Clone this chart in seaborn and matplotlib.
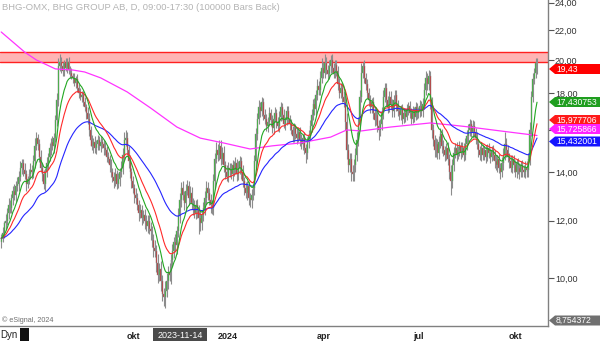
import numpy as np
import pandas as pd
import matplotlib
matplotlib.use("Agg")
import matplotlib.pyplot as plt
import seaborn as sns
from matplotlib.patches import Rectangle, Polygon
from matplotlib.ticker import FixedLocator, NullLocator, FuncFormatter

# ---------------- data ----------------
start_date = "2023-05-29"
first_open = 11.2
closes = [
    11.35, 11.55, 11.9, 12.0, 12.3, 12.6, 12.5, 12.9, 13.2, 13.0,
    13.4, 13.5, 13.8, 14.2, 14.4, 14.1, 13.9, 13.5, 13.7, 13.9,
    14.1, 14.0, 14.5, 15.2, 15.6, 15.3, 14.7, 14.2, 13.9, 13.5,
    14.0, 14.4, 14.7, 15.1, 15.4, 15.2, 15.6, 16.5, 17.6, 19.6,
    19.9, 19.6, 19.3, 19.8, 19.5, 19.9, 19.4, 19.2, 19.0, 18.9,
    18.6, 18.8, 18.3, 18.0, 17.8, 17.9, 17.5, 17.2, 16.9, 16.6,
    16.0, 15.5, 15.2, 15.4, 15.1, 15.3, 15.5, 15.2, 15.4, 15.3,
    15.1, 15.0, 14.7, 14.6, 14.3, 14.0, 13.8, 13.6, 13.9, 13.5,
    13.7, 14.0, 14.2, 14.8, 15.5, 15.6, 15.0, 14.5, 14.0, 13.6,
    13.3, 13.0, 12.9, 12.6, 12.3, 12.4, 12.1, 12.2, 12.0, 11.8,
    12.0, 11.7, 11.6, 11.3, 11.0, 10.9, 10.5, 10.1, 10.3, 9.9,
    9.5, 9.4, 9.6, 9.9, 10.2, 10.1, 10.6, 10.9, 11.2, 11.1,
    11.6, 12.2, 12.8, 13.3, 13.0, 12.7, 13.2, 13.4, 12.9, 13.1,
    12.7, 12.5, 12.3, 12.6, 12.4, 12.1, 11.9, 12.2, 12.5, 12.9,
    13.3, 13.1, 12.8, 12.6, 12.5, 13.6, 14.6, 15.0, 14.8, 15.2,
    14.6, 14.9, 14.3, 14.0, 13.8, 14.2, 14.1, 13.9, 14.3, 14.1,
    14.4, 13.9, 14.2, 14.5, 14.0, 13.6, 13.3, 13.1, 13.4, 12.9,
    12.8, 13.0, 13.3, 14.5, 15.8, 16.6, 17.2, 17.0, 17.5, 16.8,
    16.6, 16.2, 16.4, 16.9, 16.5, 16.1, 16.6, 16.9, 16.4, 16.2,
    16.7, 17.2, 16.8, 16.3, 16.5, 17.0, 16.6, 16.3, 16.0, 15.7,
    16.1, 15.8, 15.6, 15.9, 15.5, 15.3, 15.6, 15.1, 14.9, 15.4,
    15.7, 16.2, 16.8, 17.4, 17.1, 17.9, 18.4, 18.2, 18.9, 19.5,
    19.2, 19.8, 19.4, 19.1, 19.6, 20.0, 19.5, 19.2, 19.7, 19.3,
    18.5, 18.0, 18.3, 17.8, 17.5, 16.4, 15.0, 14.3, 14.6, 14.0,
    13.9, 14.3, 14.8, 15.5, 16.3, 17.8, 19.2, 19.6, 18.9, 18.5,
    18.0, 17.6, 17.2, 17.5, 16.9, 16.5, 16.8, 16.2, 16.0, 16.3,
    16.9, 17.8, 18.3, 17.6, 17.2, 17.8, 17.4, 17.0, 17.6, 17.9,
    17.3, 17.0, 16.8, 17.1, 16.6, 16.9, 16.7, 17.1, 17.3, 16.9,
    16.6, 17.0, 16.7, 17.2, 16.9, 17.0, 17.3, 17.0, 17.4, 18.2,
    18.9, 18.5, 19.0, 17.5, 16.0, 15.5, 15.0, 15.3, 14.9, 15.4,
    15.8, 15.2, 15.0, 14.8, 15.1, 14.6, 14.0, 13.6, 14.3, 14.9,
    15.1, 14.8, 15.0, 15.2, 14.9, 15.1, 14.8, 15.3, 15.7, 16.0,
    16.3, 15.9, 16.2, 15.9, 15.6, 15.3, 15.0, 14.8, 15.1, 14.8,
    15.0, 14.7, 15.1, 14.9, 14.7, 15.0, 14.8, 14.5, 14.3, 14.6,
    14.2, 14.0, 14.4, 14.8, 15.3, 15.0, 14.7, 14.5, 14.2, 14.6,
    14.3, 14.0, 14.4, 14.2, 14.0, 14.3, 14.1, 14.0, 14.2, 14.1,
    14.6, 16.0, 17.8, 18.8, 19.2, 19.8, 19.43,
]
wick_up = [
    .15, .2, .1, .25, .2, .3, .2, .15, .2, .3,
    .2, .3, .25, .3, .2, .2, .3, .2, .15, .25,
    .3, .2, .3, .4, .3, .2, .25, .3, .2, .2,
    .2, .3, .2, .25, .2, .3, .25, .3, .4, .5,
    .5, .3, .3, .2, .3, .2, .3, .2, .3, .2,
    .3, .2, .3, .2, .3, .2, .2, .3, .2, .3,
    .3, .2, .25, .2, .3, .2, .25, .2, .3, .2,
    .2, .3, .2, .25, .2, .3, .2, .2, .3, .2,
    .25, .2, .3, .3, .4, .4, .3, .2, .3, .2,
    .25, .2, .3, .2, .2, .25, .2, .2, .25, .2,
    .2, .2, .25, .2, .2, .3, .2, .3, .2, .25,
    .2, .2, .3, .25, .2, .3, .2, .25, .2, .3,
    .2, .3, .3, .25, .3, .2, .3, .25, .2, .3,
    .25, .2, .3, .2, .25, .2, .3, .2, .25, .3,
    .3, .25, .2, .25, .2, .3, .3, .4, .3, .3,
    .3, .25, .3, .2, .3, .25, .2, .3, .25, .2,
    .3, .2, .3, .25, .2, .3, .2, .25, .2, .2,
    .2, .25, .2, .3, .3, .3, .4, .3, .3, .2,
    .3, .25, .3, .3, .2, .3, .25, .3, .2, .3,
    .3, .3, .25, .3, .2, .3, .25, .2, .3, .2,
    .25, .2, .3, .2, .25, .3, .2, .3, .2, .25,
    .3, .3, .3, .25, .3, .3, .4, .3, .4, .6,
    .4, .6, .4, .3, .4, .3, .4, .3, .3, .3,
    .3, .4, .3, .3, .3, .4, .5, .3, .3, .3,
    .3, .3, .3, .4, .4, .4, .6, .3, .4, .3,
    .3, .3, .3, .25, .3, .3, .3, .25, .3, .3,
    .3, .4, .3, .3, .25, .3, .3, .25, .3, .3,
    .25, .3, .2, .25, .3, .2, .25, .3, .2, .25,
    .25, .3, .2, .3, .25, .2, .3, .25, .3, .4,
    .4, .3, .4, .3, .3, .3, .25, .3, .25, .3,
    .3, .25, .3, .2, .25, .3, .25, .3, .3, .25,
    .25, .3, .2, .25, .2, .3, .25, .3, .3, .3,
    .3, .25, .3, .25, .2, .3, .25, .2, .3, .2,
    .2, .25, .2, .25, .2, .2, .25, .2, .3, .2,
    .25, .2, .3, .3, .6, .3, .25, .2, .3, .2,
    .2, .25, .2, .25, .2, .2, .25, .2, .3, .3,
    .3, .4, .3, .4, .3, .3, .35,
]
wick_dn = [
    .2, .15, .2, .2, .15, .25, .2, .2, .3, .2,
    .25, .2, .3, .2, .3, .25, .2, .3, .2, .2,
    .2, .3, .25, .3, .2, .3, .25, .2, .3, .25,
    .3, .2, .25, .2, .3, .2, .3, .2, .3, .3,
    .3, .4, .3, .3, .2, .3, .3, .3, .2, .3,
    .2, .3, .25, .3, .2, .3, .25, .2, .3, .3,
    .3, .3, .2, .3, .2, .25, .3, .2, .25, .2,
    .3, .2, .25, .2, .3, .2, .25, .3, .2, .25,
    .2, .3, .2, .3, .25, .3, .2, .3, .25, .3,
    .2, .3, .25, .2, .3, .2, .25, .2, .3, .2,
    .25, .2, .3, .25, .3, .2, .3, .25, .2, .3,
    .2, .25, .3, .2, .25, .2, .3, .2, .25, .2,
    .3, .2, .3, .25, .2, .3, .25, .2, .3, .2,
    .25, .3, .2, .25, .3, .6, .3, .25, .2, .3,
    .25, .3, .2, .3, .25, .3, .3, .2, .3, .25,
    .3, .25, .3, .3, .2, .25, .3, .2, .3, .25,
    .2, .3, .25, .3, .3, .25, .3, .2, .3, .3,
    .25, .3, .2, .3, .3, .3, .3, .3, .25, .3,
    .3, .25, .3, .2, .3, .25, .3, .2, .3, .25,
    .3, .25, .3, .2, .3, .25, .3, .3, .2, .3,
    .3, .25, .3, .2, .3, .25, .3, .25, .5, .3,
    .3, .2, .3, .25, .3, .3, .3, .3, .3, .3,
    .3, .3, .3, .3, .3, .4, .3, .3, .3, .3,
    .3, .3, .3, .3, .3, .4, .4, .3, .3, .4,
    .3, .3, .3, .3, .3, .3, .3, .3, .3, .3,
    .3, .3, .3, .3, .3, .3, .25, .3, .5, .3,
    .3, .3, .3, .3, .3, .25, .3, .3, .3, .25,
    .3, .25, .3, .25, .3, .25, .3, .2, .3, .25,
    .3, .25, .3, .2, .3, .25, .3, .25, .3, .3,
    .3, .3, .3, .4, .4, .3, .3, .3, .3, .3,
    .3, .3, .25, .3, .25, .3, .3, .6, .3, .25,
    .25, .3, .2, .25, .3, .2, .3, .25, .3, .3,
    .3, .25, .3, .25, .3, .25, .3, .25, .3, .25,
    .25, .3, .2, .25, .3, .2, .25, .3, .2, .3,
    .25, .3, .2, .3, .25, .3, .25, .3, .2, .25,
    .3, .2, .25, .3, .3, .2, .3, .2, .25, .3,
    .3, .3, .3, .3, .3, .3, .3,
]
# long moving average (magenta): bar index -> value
mag_idx = [0, 16, 24, 37, 49, 57, 68, 86, 102, 120, 136, 152, 170, 185,
           204, 225, 236, 246, 266, 293, 308, 320, 341, 366]
mag_val = [21.86, 20.51, 20.0, 19.44, 19.37, 19.25, 18.89, 18.07, 17.17,
           16.16, 15.60, 15.36, 15.07, 15.22, 15.36, 15.65, 16.01, 15.96,
           16.16, 16.37, 16.26, 16.16, 15.96, 15.73]
ema_spans = [10, 20, 50]
band_low, band_high = 19.84, 20.52
yticks = [10, 12, 14, 16, 18, 20, 22, 24]
ytick_hidden = [16]          # covered by the value tags in the reference
month_names = {1: "", 4: "apr", 7: "jul", 10: "okt"}
last_labels = ["19,43", "17,430753", "15,977706", "15,725866", "15,432001", "8,754372"]
title = "BHG-OMX, BHG GROUP AB, D, 09:00-17:30 (100000 Bars Back)"
cursor_date = "2023-11-14"

# ---------------- styling ----------------
sns.set_style("white")
plt.rcParams['font.family'] = ['Liberation Sans', 'DejaVu Sans']

W, H = 600, 341
def fx(x): return x / W
def fy(y): return 1 - y / H

dates = pd.bdate_range(start_date, periods=len(closes))
df = pd.DataFrame({"date": dates, "close": closes})
df["i"] = np.arange(len(df))
df["open"] = [first_open] + closes[:-1]
df["high"] = np.maximum(df["open"], df["close"]) + np.array(wick_up)
df["low"] = np.minimum(df["open"], df["close"]) - np.array(wick_dn)
for s in ema_spans:
    df[f"ma{s}"] = df["close"].ewm(span=s, adjust=False).mean()

fig = plt.figure(figsize=(W / 100, H / 100), dpi=100)
ax = fig.add_axes([0, fy(326), fx(548), 326 / H])
ax.set_facecolor("white")

# band
ax.axhspan(band_low, band_high, fc="#ffb4b4", ec="none", zorder=0.5)
for v in (band_low, band_high):
    ax.axhline(v, color="#ff2020", lw=1.0, zorder=0.6)

# candles
up = df["close"] >= df["open"]
ax.vlines(df["i"], df["low"], df["high"], color="#8c8c8c", lw=0.8, zorder=1)
bot = np.minimum(df["open"], df["close"])
hgt = np.abs(df["close"] - df["open"])
ax.bar(df["i"], hgt, bottom=bot, width=0.65,
       color=np.where(up, "#22c422", "#cc2222"), edgecolor="#8c8c8c",
       linewidth=0.3, zorder=2)

# moving averages
sns.lineplot(x=mag_idx, y=mag_val, color="#ff33ff", lw=0.9, ax=ax, zorder=3)
sns.lineplot(data=df, x="i", y="ma50", color="#2525ff", lw=0.8, ax=ax, zorder=3)
sns.lineplot(data=df, x="i", y="ma20", color="#ff2a2a", lw=0.8, ax=ax, zorder=3)
sns.lineplot(data=df, x="i", y="ma10", color="#22a822", lw=0.8, ax=ax, zorder=3)
ax.set_xlabel("")
ax.set_ylabel("")

# axes
ax.set_yscale("log")
ax.set_ylim(8.585, 24.2)
ax.set_xlim(-0.82, 373.5)
ax.yaxis.tick_right()
ax.yaxis.set_major_locator(FixedLocator(yticks))
ax.yaxis.set_minor_locator(NullLocator())
ax.yaxis.set_major_formatter(FuncFormatter(
    lambda v, p: "" if round(v) in ytick_hidden else f"{v:.2f}".replace(".", ",")))
ax.tick_params(axis="y", which="major", direction="out", length=4, width=0.8,
               colors="#555555", labelcolor="#333333", labelsize=6.5, pad=1)

first_of_month = df.groupby([df["date"].dt.year, df["date"].dt.month])["i"].min()
xt, xl = [], []
for (yr, mo), i in first_of_month.items():
    if mo in month_names and i > 0:
        xt.append(i)
        if mo == 1:
            xl.append(str(yr))
        elif yr == 2023 and mo == 7:
            xl.append("")
        else:
            xl.append(month_names[mo])
ax.set_xticks(xt)
ax.set_xticklabels(xl, fontweight="bold")
ax.tick_params(axis="x", direction="out", length=3, width=0.8, colors="#555555",
               labelcolor="#222222", labelsize=6.5, pad=1.5)

for s in ("left", "top"):
    ax.spines[s].set_visible(False)
for s in ("right", "bottom"):
    ax.spines[s].set_color("#808080")
    ax.spines[s].set_linewidth(1.0)

# texts
fig.text(fx(2), fy(7), title, color="#b4b4b4", fontsize=6.8, ha="left", va="center")
fig.text(fx(2), fy(320), "© eSignal, 2024", color="#707070", fontsize=5.2, ha="left", va="center")
fig.text(fx(0), fy(335), "Dyn", color="#222222", fontsize=7, ha="left", va="center")
fig.patches.append(Rectangle((fx(20), fy(341)), fx(9), 13 / H, transform=fig.transFigure,
                             fc="#111111", ec="none"))
fig.patches.append(Rectangle((fx(153), fy(341)), fx(54), 13 / H, transform=fig.transFigure,
                             fc="#4a4a4a", ec="none"))
fig.text(fx(180), fy(335), cursor_date, color="white", fontsize=6.5, ha="center", va="center")

# right-hand value tags
tag_y = [69, 102, 120, 129, 141.5, 320.5]
tag_c = ["#ff0000", "#1f9e1f", "#ff1a1a", "#ff22ff", "#1414ff", "#707070"]
for txt, yc, c in zip(last_labels, tag_y, tag_c):
    h = 5.0
    pts = [(549, yc), (555, yc - h), (600, yc - h), (600, yc + h), (555, yc + h)]
    fig.patches.append(Polygon([(fx(a), fy(b)) for a, b in pts], closed=True,
                               transform=fig.transFigure, fc=c, ec="none", zorder=5))
    fig.text(fx(556), fy(yc), txt, color="white", fontsize=6.2, ha="left", va="center",
             zorder=6)

fig.savefig("out.png", dpi=100)
